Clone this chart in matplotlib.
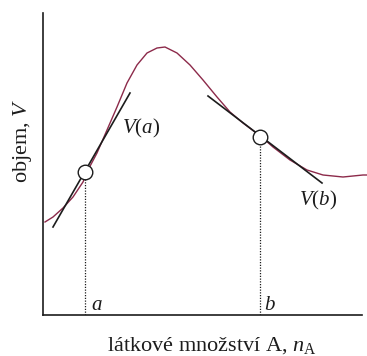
import numpy as np
import matplotlib.pyplot as plt
import matplotlib

matplotlib.rcParams['font.family'] = ['Liberation Serif', 'DejaVu Serif']
matplotlib.rcParams['mathtext.fontset'] = 'custom'
matplotlib.rcParams['mathtext.rm'] = 'Liberation Serif'
matplotlib.rcParams['mathtext.it'] = 'Liberation Serif:italic'

# volume curve V(n_A), arbitrary units
curve_x = [2, 10, 20, 30, 40, 45, 54, 64, 74, 84, 94, 104, 114, 122,
           134, 147, 160, 174, 187, 200, 212, 222, 230, 247, 264, 280, 300, 320, 324]
curve_y = [93, 98, 107, 118, 133, 145, 162, 185, 208, 232, 250, 262, 267, 268,
           262, 250, 235, 218, 203, 192, 183, 175, 168, 155, 145, 140, 138, 140, 140]

# the two marked compositions and the tangents through them
points_x = [42, 217]
points_y = [143, 178]
tangent_a_x = [10, 87]
tangent_a_y = [88, 222]
tangent_b_x = [165, 279]
tangent_b_y = [219, 132]

fig = plt.figure(figsize=(3.67, 3.56), dpi=100)
ax = fig.add_axes([43 / 367, 41 / 356, 319 / 367, 302 / 356])
ax.set_xlim(0, 319)
ax.set_ylim(0, 302)

curve_col = '#8c2a4a'
ink = '#1c1c1c'

ax.plot(curve_x, curve_y, color=curve_col, lw=1.0, clip_on=False, zorder=2,
        solid_joinstyle='round')
ax.plot(tangent_a_x, tangent_a_y, color=ink, lw=1.2, zorder=3)
ax.plot(tangent_b_x, tangent_b_y, color=ink, lw=1.2, zorder=3)

for px, py in zip(points_x, points_y):
    ax.plot([px, px], [0, py - 6], color=ink, lw=0.9, ls=(0, (1, 1.2)), zorder=1)
ax.scatter(points_x, points_y, s=110, facecolor='white', edgecolor=ink,
           linewidths=1.0, zorder=4)

ax.text(79, 187, r'$V(a)$', fontsize=15, color=ink, ha='left', va='center')
ax.text(275, 115, r'$V(b)$', fontsize=15, color=ink, ha='center', va='center')
ax.text(54, 10, r'$a$', fontsize=15, color=ink, ha='center', va='center')
ax.text(227, 10, r'$b$', fontsize=15, color=ink, ha='center', va='center')

for side in ['top', 'right']:
    ax.spines[side].set_visible(False)
for side in ['left', 'bottom']:
    ax.spines[side].set_linewidth(1.2)
    ax.spines[side].set_color(ink)
ax.set_xticks([])
ax.set_yticks([])

fig.text(23 / 367, 1 - 141 / 356, r'objem, $V$', rotation=90, fontsize=16,
         color=ink, ha='center', va='center')
fig.text(212 / 367, 1 - 346 / 356, r'látkové množství A, $n_{\mathrm{A}}$',
         fontsize=16, color=ink, ha='center', va='center')

fig.savefig('out.png', dpi=100, facecolor='white')
